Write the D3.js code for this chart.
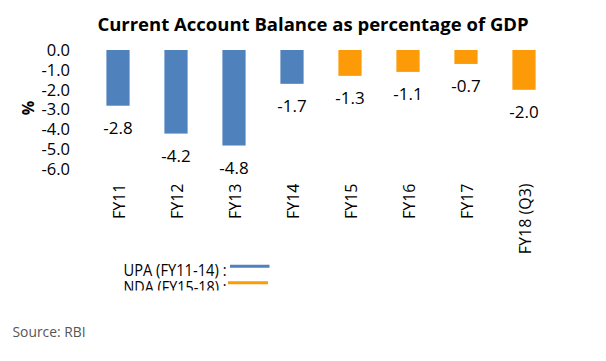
<!DOCTYPE html>
<html>
<head>
<meta charset="utf-8">
<script src="https://cdn.jsdelivr.net/npm/d3@7"></script>
<style>
  body { margin: 0; background: #fff; }
  text { font-family: "Open Sans", "Noto Sans", sans-serif; }
</style>
</head>
<body>
<div id="chart"></div>
<script>
// Current account balance, % of GDP
var years = ["FY11", "FY12", "FY13", "FY14", "FY15", "FY16", "FY17", "FY18 (Q3)"];
var cab = [-2.8, -4.2, -4.8, -1.7, -1.3, -1.1, -0.7, -2.0];
var govt = ["UPA", "UPA", "UPA", "UPA", "NDA", "NDA", "NDA", "NDA"];
var yTicks = [0, -1, -2, -3, -4, -5, -6];
var legendLabels = ["UPA (FY11-14) :", "NDA (FY15-18) :"];
var legendKeys = ["UPA", "NDA"];

var width = 606;
var height = 361;

var colors = d3.scaleOrdinal()
	.domain(["UPA", "NDA"])
	.range(["#4f81bd", "#fd9a08"]);

var svg = d3.select("#chart").append("svg")
	.attr("width", width)
	.attr("height", height);

// Title
svg.append("text")
	.attr("x", 313)
	.attr("y", 31)
	.attr("text-anchor", "middle")
	.style("font-weight", "bold")
	.style("font-size", "18.5px")
	.text("Current Account Balance as percentage of GDP");

// Scales
var y = d3.scaleLinear()
	.domain([-6, 0])
	.range([169.4, 50]);

var x = d3.scaleBand()
	.domain(years)
	.range([89, 553])
	.paddingInner(0.6)
	.paddingOuter(0.3);

// Y axis
var yAxis = svg.append("g")
	.attr("transform", "translate(72,0)")
	.call(d3.axisLeft(y).tickValues(yTicks).tickSize(0).tickPadding(2)
		.tickFormat(function(d){ return d.toFixed(1); }));
yAxis.select(".domain").remove();
yAxis.selectAll("text")
	.style("font-family", "'Open Sans', sans-serif")
	.style("font-size", "16.5px")
	.attr("fill", "#000");

svg.append("text")
	.attr("transform", "translate(28,108) rotate(-90)")
	.attr("text-anchor", "middle")
	.attr("dy", "0.35em")
	.style("font-weight", "bold")
	.style("font-size", "16px")
	.text("%");

// Bars
svg.append("g")
	.selectAll("rect")
	.data(years)
	.enter().append("rect")
	.attr("x", function(d){ return x(d); })
	.attr("width", x.bandwidth())
	.attr("y", y(0))
	.attr("height", function(d, i){ return y(cab[i]) - y(0); })
	.attr("fill", function(d, i){ return colors(govt[i]); });

// Value labels under the bars
svg.append("g")
	.selectAll("text")
	.data(years)
	.enter().append("text")
	.attr("x", function(d){ return x(d) + x.bandwidth() / 2; })
	.attr("y", function(d, i){ return y(cab[i]) + 22.5; })
	.attr("dy", "0.35em")
	.attr("text-anchor", "middle")
	.style("font-size", "17px")
	.text(function(d, i){ return cab[i].toFixed(1); });

// Category labels, rotated
svg.append("g")
	.selectAll("text")
	.data(years)
	.enter().append("text")
	.attr("transform", function(d){ return "translate(" + (x(d) + x.bandwidth() / 2 + 1) + ",183.5) rotate(-90)"; })
	.attr("dy", "0.35em")
	.attr("text-anchor", "end")
	.style("font-size", "16px")
	.text(function(d){ return d; });

// Legend, clipped at the bottom like the source image
svg.append("clipPath")
	.attr("id", "legClip")
	.append("rect")
	.attr("x", 0).attr("y", 250).attr("width", 300).attr("height", 40.5);

var leg = svg.append("g")
	.attr("clip-path", "url(#legClip)");

leg.selectAll("text")
	.data(legendLabels)
	.enter().append("text")
	.attr("x", 123.5)
	.attr("y", function(d, i){ return 276 + i * 16.5; })
	.attr("textLength", 103)
	.attr("lengthAdjust", "spacingAndGlyphs")
	.style("font-size", "15.5px")
	.text(function(d){ return d; });

leg.selectAll("line")
	.data(legendKeys)
	.enter().append("line")
	.attr("x1", function(d, i){ return 230 - i * 2; })
	.attr("x2", function(d, i){ return 269.5 - i * 1.5; })
	.attr("y1", function(d, i){ return 266.3 + i * 16.4; })
	.attr("y2", function(d, i){ return 266.3 + i * 16.4; })
	.attr("stroke", function(d){ return colors(d); })
	.attr("stroke-width", 3);

// Source
svg.append("text")
	.attr("x", 12.5)
	.attr("y", 331.7)
	.attr("dy", "0.35em")
	.attr("fill", "#555")
	.attr("textLength", 73)
	.attr("lengthAdjust", "spacingAndGlyphs")
	.style("font-size", "14.5px")
	.text("Source: RBI");
</script>
</body>
</html>
